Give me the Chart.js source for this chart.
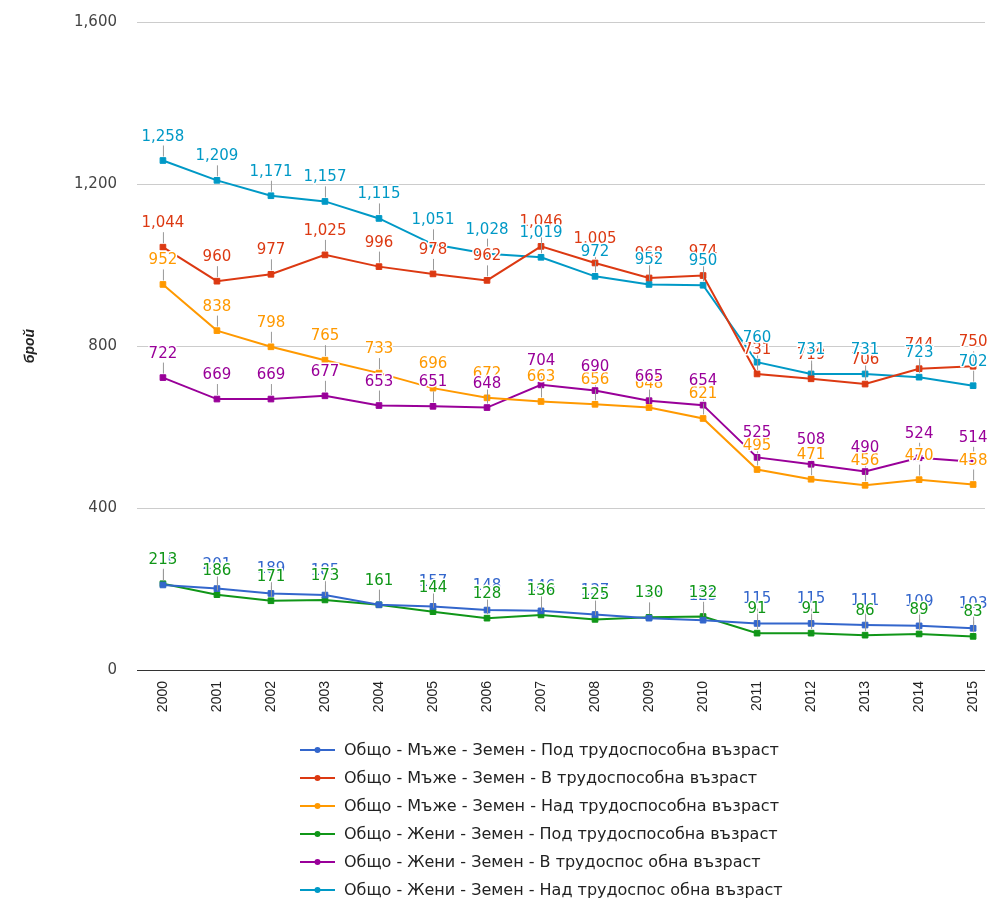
<!DOCTYPE html>
<html>
<head>
<meta charset="utf-8">
<script src="https://cdn.jsdelivr.net/npm/chart.js@4.4.0/dist/chart.umd.min.js"></script>
<style>
  body { margin: 0; background: #fff; }
  #wrap { width: 990px; height: 901px; }
</style>
</head>
<body>
<div id="wrap"><canvas id="chart" width="990" height="901"></canvas></div>
<script>
// years on the category axis
const years = ['2000','2001','2002','2003','2004','2005','2006','2007',
               '2008','2009','2010','2011','2012','2013','2014','2015'];
const yTicks = [0, 400, 800, 1200, 1600];

// series values (брой)
const menUnder   = [210, 201, 189, 185, 161, 157, 148, 146, 137, 128, 123, 115, 115, 111, 109, 103];
const menWork    = [1044, 960, 977, 1025, 996, 978, 962, 1046, 1005, 968, 974, 731, 719, 706, 744, 750];
const menOver    = [952, 838, 798, 765, 733, 696, 672, 663, 656, 648, 621, 495, 471, 456, 470, 458];
const womenUnder = [213, 186, 171, 173, 161, 144, 128, 136, 125, 130, 132, 91, 91, 86, 89, 83];
const womenWork  = [722, 669, 669, 677, 653, 651, 648, 704, 690, 665, 654, 525, 508, 490, 524, 514];
const womenOver  = [1258, 1209, 1171, 1157, 1115, 1051, 1028, 1019, 972, 952, 950, 760, 731, 731, 723, 702];

const seriesNames = [
  'Общо - Мъже - Земен - Под трудоспособна възраст',
  'Общо - Мъже - Земен - В трудоспособна възраст',
  'Общо - Мъже - Земен - Над трудоспособна възраст',
  'Общо - Жени - Земен - Под трудоспособна възраст',
  'Общо - Жени - Земен - В трудоспос обна възраст',
  'Общо - Жени - Земен - Над трудоспос обна възраст'
];
const seriesValues = [menUnder, menWork, menOver, womenUnder, womenWork, womenOver];
const colors = ['#3366cc', '#dc3912', '#ff9900', '#109618', '#990099', '#0099c6'];

const fmt = v => Number(v).toLocaleString('en-US');

// point annotations: grey stem + value with white halo
const annotations = {
  id: 'annotations',
  afterDatasetsDraw(chart) {
    const ctx = chart.ctx;
    ctx.save();
    chart.data.datasets.forEach((ds, i) => {
      chart.getDatasetMeta(i).data.forEach(pt => {
        ctx.strokeStyle = '#999';
        ctx.lineWidth = 1;
        ctx.beginPath();
        ctx.moveTo(pt.x + 0.5, pt.y - 4);
        ctx.lineTo(pt.x + 0.5, pt.y - 15);
        ctx.stroke();
      });
    });
    ctx.font = '15px "DejaVu Sans"';
    ctx.textAlign = 'center';
    ctx.textBaseline = 'alphabetic';
    chart.data.datasets.forEach((ds, i) => {
      chart.getDatasetMeta(i).data.forEach((pt, j) => {
        const txt = fmt(ds.data[j].y);
        ctx.strokeStyle = '#fff';
        ctx.lineWidth = 3;
        ctx.lineJoin = 'round';
        ctx.strokeText(txt, pt.x, pt.y - 20);
        ctx.fillStyle = colors[i];
        ctx.fillText(txt, pt.x, pt.y - 20);
      });
    });
    ctx.restore();
  }
};

// one-per-row legend under the axis
const rowLegend = {
  id: 'rowLegend',
  afterDraw(chart) {
    const ctx = chart.ctx;
    ctx.save();
    ctx.font = '16px "DejaVu Sans"';
    ctx.textBaseline = 'middle';
    ctx.textAlign = 'left';
    seriesNames.forEach((name, i) => {
      const y = 750 + i * 28;
      ctx.strokeStyle = colors[i];
      ctx.lineWidth = 2;
      ctx.beginPath();
      ctx.moveTo(300, y);
      ctx.lineTo(335, y);
      ctx.stroke();
      ctx.fillStyle = colors[i];
      ctx.beginPath();
      ctx.arc(317.5, y, 3, 0, Math.PI * 2);
      ctx.fill();
      ctx.fillStyle = '#222';
      ctx.fillText(name, 344, y + 1);
    });
    ctx.restore();
  }
};

new Chart(document.getElementById('chart'), {
  type: 'line',
  data: {
    datasets: seriesValues.map((vals, i) => ({
      label: seriesNames[i],
      data: vals.map((v, j) => ({ x: j, y: v })),
      borderColor: colors[i],
      backgroundColor: colors[i],
      borderWidth: 2,
      pointStyle: 'rect',
      pointRadius: 4,
      pointBorderWidth: 1,
      tension: 0
    }))
  },
  options: {
    responsive: false,
    animation: false,
    layout: { padding: { top: 22, right: 5, bottom: 186, left: 0 } },
    plugins: { legend: { display: false }, tooltip: { enabled: false } },
    scales: {
      x: {
        type: 'linear',
        min: -0.48,
        max: 15.22,
        afterBuildTicks: s => { s.ticks = years.map((_, i) => ({ value: i })); },
        afterFit: s => { s.height = 45; s.paddingLeft = 0; s.paddingRight = 0; },
        grid: { display: false },
        border: { display: false },
        ticks: {
          autoSkip: false,
          minRotation: 90,
          maxRotation: 90,
          padding: 3,
          color: '#222',
          font: { family: '"Liberation Sans", Arial', size: 14 },
          callback: v => years[v]
        }
      },
      y: {
        min: 0,
        max: 1600,
        afterBuildTicks: s => { s.ticks = yTicks.map(v => ({ value: v })); },
        afterFit: s => { s.width = 137; s.paddingTop = 0; s.paddingBottom = 0; },
        border: { display: false },
        grid: {
          drawTicks: false,
          color: c => (c.tick && c.tick.value === 0 ? '#333' : '#ccc')
        },
        ticks: {
          padding: 20,
          color: '#444',
          font: { family: '"DejaVu Sans"', size: 15 },
          callback: v => fmt(v)
        },
        title: {
          display: true,
          text: 'брой',
          color: '#222',
          padding: { top: 22, bottom: 0 },
          font: { family: '"Liberation Sans", Arial', size: 14, weight: 'bold', style: 'italic' }
        }
      }
    }
  },
  plugins: [annotations, rowLegend]
});
</script>
</body>
</html>
